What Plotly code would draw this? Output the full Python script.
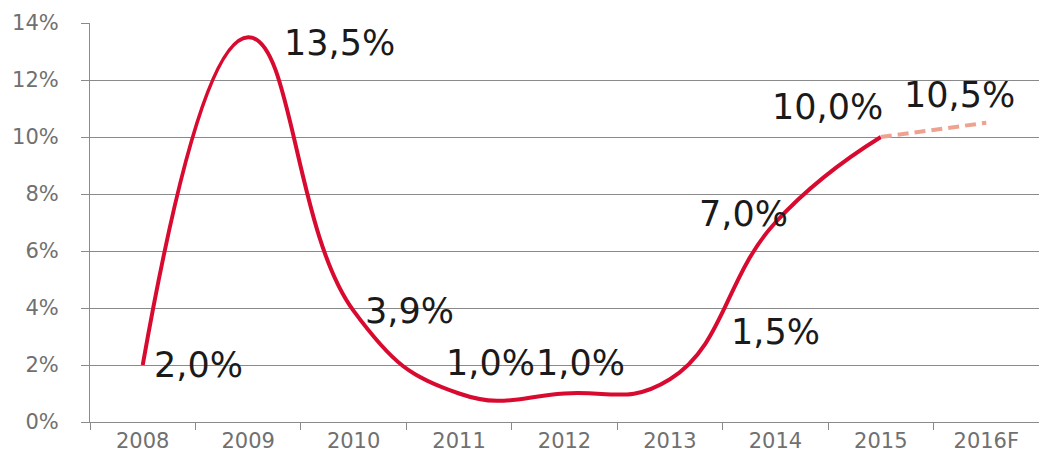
import plotly.graph_objects as go

# Annual growth rate (%), 2016 is a forecast
years = ["2008", "2009", "2010", "2011", "2012", "2013", "2014", "2015", "2016F"]
growth = [2.0, 13.5, 3.9, 1.0, 1.0, 1.5, 7.0, 10.0, 10.5]
y_ticks = [0, 2, 4, 6, 8, 10, 12, 14]
y_tick_text = [f"{v}%" for v in y_ticks]

# label offsets (pixels) relative to each point
label_dx = [56, 91, 56, 31, 16, 106, -32, -53, -27]
label_dy = [0, -6, 0, 31, 31, 47, 9, 30, 28]

actual_n = 8  # points up to 2015 are actuals
xpos = list(range(len(years)))

fig = go.Figure()

fig.add_trace(go.Scatter(
    x=xpos[:actual_n], y=growth[:actual_n],
    mode="lines",
    line=dict(color="#d80a30", width=4, shape="spline", smoothing=1.3),
    hoverinfo="skip", showlegend=False,
))

fig.add_trace(go.Scatter(
    x=xpos[actual_n - 1:], y=growth[actual_n - 1:],
    mode="lines",
    line=dict(color="#eea391", width=4, dash="11px,6px"),
    hoverinfo="skip", showlegend=False,
))

for i, v, dx, dy in zip(xpos, growth, label_dx, label_dy):
    fig.add_annotation(
        x=i, y=v, text=f"{v:.1f}%".replace(".", ","),
        showarrow=False, xshift=dx, yshift=dy,
        font=dict(family="DejaVu Sans", size=35, color="#1a1a1a"),
    )

fig.update_layout(
    width=1039, height=461,
    margin=dict(l=90, r=0, t=23, b=39),
    paper_bgcolor="white", plot_bgcolor="white",
    font=dict(family="DejaVu Sans", color="#707070"),
)

# category positions with boundary ticks between the years
fig.update_xaxes(
    tickmode="array", tickvals=xpos, ticktext=years,
    range=[-0.5, 8.5],
    showgrid=False, showline=True, linecolor="#8a8a8a", linewidth=1,
    ticks="", zeroline=False,
    tickfont=dict(size=21, color="#707070"),
)
fig.update_xaxes(
    minor=dict(tickmode="array", tickvals=[i - 0.5 for i in xpos] + [8.5],
               ticks="outside", ticklen=7, tickcolor="#8a8a8a", showgrid=False),
)

fig.update_yaxes(
    range=[0, 14], tickvals=y_ticks, ticktext=y_tick_text,
    showgrid=True, gridcolor="#8a8a8a", gridwidth=1,
    showline=True, linecolor="#8a8a8a", linewidth=1,
    ticks="outside", ticklen=8, tickcolor="#8a8a8a",
    ticklabelstandoff=18,
    tickfont=dict(size=21, color="#707070"),
    zeroline=False,
)

fig.write_html("out.html")
